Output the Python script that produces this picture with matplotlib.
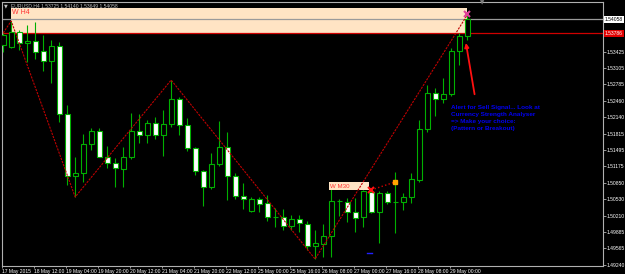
import matplotlib.pyplot as plt
from matplotlib.patches import Rectangle

# EURUSD H4 candles, 17 May 2015 .. 29 May 2015 08:00
opens = [1.53556, 1.53517, 1.53811, 1.53595, 1.53635, 1.53438, 1.53242, 1.53536, 1.52202, 1.50986,
         1.51045, 1.51614, 1.51869, 1.51359, 1.51241, 1.51123, 1.51359, 1.51869, 1.51790, 1.52026,
         1.51790, 1.52006, 1.52497, 1.51986, 1.51535, 1.51084, 1.50770, 1.51221, 1.51555, 1.50986,
         1.50593, 1.50299, 1.50535, 1.50456, 1.50181, 1.50181, 1.50005, 1.50142, 1.50044, 1.49612,
         1.49652, 1.49809, 1.50495, 1.50476, 1.50280, 1.50181, 1.50672, 1.50280, 1.50652, 1.50476,
         1.50476, 1.50574, 1.50907, 1.51908, 1.52614, 1.52497, 1.52595, 1.53438, 1.53725]
highs = [1.53792, 1.54027, 1.53850, 1.53948, 1.54007, 1.53752, 1.53654, 1.53615, 1.52379, 1.51359,
         1.51810, 1.51928, 1.51928, 1.51574, 1.51339, 1.51555, 1.52222, 1.52202, 1.52085, 1.52143,
         1.52281, 1.52869, 1.52536, 1.52124, 1.51555, 1.51104, 1.51437, 1.52065, 1.51849, 1.51045,
         1.50849, 1.50574, 1.50574, 1.50613, 1.50358, 1.50338, 1.50221, 1.50221, 1.50103, 1.49926,
         1.50044, 1.50809, 1.50535, 1.50554, 1.50554, 1.50711, 1.50750, 1.50692, 1.50692, 1.51064,
         1.50652, 1.51045, 1.52085, 1.52771, 1.52712, 1.52909, 1.53497, 1.53792, 1.54140]
lows = [1.53419, 1.53497, 1.53458, 1.53223, 1.53281, 1.53046, 1.52811, 1.52045, 1.50809, 1.50574,
        1.50868, 1.51496, 1.51359, 1.51143, 1.50770, 1.50770, 1.51319, 1.51633, 1.51633, 1.51712,
        1.51378, 1.51947, 1.51790, 1.51476, 1.51005, 1.50397, 1.50731, 1.51182, 1.50515, 1.50535,
        1.50338, 1.50280, 1.50280, 1.50103, 1.49985, 1.49926, 1.49926, 1.49887, 1.49534, 1.49357,
        1.49397, 1.49397, 1.50201, 1.50083, 1.49887, 1.49985, 1.50260, 1.49671, 1.50437, 1.49868,
        1.50319, 1.50456, 1.50868, 1.51849, 1.52163, 1.52418, 1.52555, 1.53164, 1.53649]
closes = [1.53752, 1.53811, 1.53595, 1.53635, 1.53419, 1.53242, 1.53536, 1.52202, 1.50986, 1.51045,
          1.51614, 1.51869, 1.51359, 1.51241, 1.51143, 1.51359, 1.51869, 1.51790, 1.52026, 1.51790,
          1.52006, 1.52497, 1.51986, 1.51535, 1.51084, 1.50770, 1.51221, 1.51555, 1.50986, 1.50593,
          1.50535, 1.50535, 1.50437, 1.50181, 1.50180, 1.50005, 1.50142, 1.50064, 1.49612, 1.49671,
          1.49809, 1.50495, 1.50490, 1.50280, 1.50162, 1.50692, 1.50280, 1.50652, 1.50476, 1.50470,
          1.50574, 1.50927, 1.51908, 1.52614, 1.52497, 1.52595, 1.53438, 1.53733, 1.54058]

zz_idx = [0, 1, 9, 21, 39, 58]
zz_price = [1.53792, 1.54027, 1.50574, 1.52869, 1.49357, 1.54140]

price_ticks = [1.53425, 1.53105, 1.52785, 1.52460, 1.52140, 1.51815, 1.51495,
               1.51175, 1.50850, 1.50530, 1.50210, 1.49885, 1.49565, 1.49240]
date_idx = [0, 4, 8, 12, 16, 20, 24, 28, 32, 36, 40, 44, 48, 52, 56]
date_labels = ['17 May 2015', '18 May 12:00', '19 May 04:00', '19 May 20:00', '20 May 12:00',
               '21 May 04:00', '21 May 20:00', '22 May 12:00', '25 May 00:00', '25 May 16:00',
               '26 May 08:00', '27 May 00:00', '27 May 16:00', '28 May 08:00', '29 May 00:00']

bid = 1.54058
level = 1.53786
zone_top = 1.54282
m30_low, m30_high = 1.50711, 1.50868

plt.rcParams['font.family'] = ['Liberation Sans', 'DejaVu Sans']

fig = plt.figure(figsize=(6.25, 2.74), dpi=100, facecolor='black')
ax = fig.add_axes([2/625, 8/274, 601/625, 264/274], facecolor='black')

green = '#00b000'
x = list(range(len(opens)))
ax.vlines(x, lows, highs, color=green, lw=0.8, zorder=3)
bottoms = [min(o, c) for o, c in zip(opens, closes)]
heights = [abs(c - o) for o, c in zip(opens, closes)]
faces = ['white' if c < o else 'black' for o, c in zip(opens, closes)]
ax.bar(x, heights, bottom=bottoms, width=0.62, color=faces, edgecolor=green, linewidth=0.8, zorder=4)

# supply zone (W H4)
ax.add_patch(Rectangle((1, level), 57, zone_top - level, facecolor='#ffe4c4', edgecolor='none', zorder=1))
ax.text(1.1, zone_top - 0.0001, 'W H4', color='#ff3030', fontsize=5, va='top', ha='left', zorder=6)
ax.axhline(bid, color='#9a9a9a', lw=0.9, zorder=2)
ax.axhline(level, color='#d00000', lw=0.9, zorder=2)

# W M30 box
ax.add_patch(Rectangle((40.75, m30_low), 5, m30_high - m30_low, facecolor='#ffe4c4', edgecolor='none', zorder=5))
ax.text(40.85, (m30_low + m30_high) / 2, 'W M30', color='#ff3030', fontsize=4.4, va='center', ha='left', zorder=6)
ax.plot([46, 49], [m30_low, m30_high], color='#d00000', ls=':', lw=1, zorder=6)
ax.plot([49], [m30_high], marker='s', ms=2.5, color='#ffa500', zorder=7)
ax.plot([46], [m30_low + 0.0001], marker='x', ms=5, mew=1.5, color='#ff1010', zorder=7)
ax.plot([58], [1.54160], marker='x', ms=5, mew=1.5, color='#e0409a', zorder=7)
ax.plot([45.5, 46.1], [1.49475, 1.49475], color='#2020ff', lw=1, zorder=6)

# zigzag
ax.plot(zz_idx, zz_price, color='#c00000', ls=(0, (2, 1)), lw=0.8, zorder=5)

# alert arrow and note
ax.annotate('', xy=(57.8, 1.5365), xytext=(59, 1.52536),
            arrowprops=dict(arrowstyle='-|>', color='#ff1010', lw=1.3, mutation_scale=6), zorder=7)
ax.text(56, 1.52370, 'Alert for Sell Signal... Look at\nCurrency Strength Analyser\n=> Make your choice:\n(Pattern or Breakout)',
        color='#0000ee', fontsize=4.6, fontweight='bold', family='Liberation Sans',
        va='top', ha='left', linespacing=1.45, zorder=7)

ax.set_xlim(-0.125, 75)
ax.set_ylim(1.49220, 1.54400)

ax.yaxis.tick_right()
ax.set_yticks(price_ticks)
ax.set_yticklabels(['%.5f' % p for p in price_ticks])
ax.set_xticks([i - 0.15 for i in date_idx])
ax.set_xticklabels(date_labels)
for lbl in ax.get_xticklabels():
    lbl.set_ha('left')
ax.tick_params(axis='y', colors='#b0b0b0', labelcolor='white', labelsize=3.6, length=2, width=0.6, pad=0.6)
ax.tick_params(axis='x', colors='#b0b0b0', labelcolor='white', labelsize=3.6, length=1.5, width=0.6, pad=0.3)
for s in ax.spines.values():
    s.set_color('#b0b0b0')
    s.set_linewidth(0.8)

# price labels on the right scale
ax.text(1.003, bid, '1.54058', transform=ax.get_yaxis_transform(), fontsize=3.6, color='black',
        va='center', ha='left', bbox=dict(facecolor='white', edgecolor='none', pad=0.7), clip_on=False)
ax.text(1.003, level, '1.53786', transform=ax.get_yaxis_transform(), fontsize=3.6, color='white',
        va='center', ha='left', bbox=dict(facecolor='#e00000', edgecolor='none', pad=0.7), clip_on=False)

# header and chart shift marker
fig.text(4/625, 1 - 6/274, '\u25bc', color='#c0c0c0', fontsize=3.5, va='center', ha='left', family='DejaVu Sans')
fig.text(11/625, 1 - 6/274, 'EURUSD,H4 1.53725 1.54140 1.53649 1.54058', color='#c0c0c0',
         fontsize=3.6, va='center', ha='left')
fig.text(482/625, 1 - 3/274, '\u25bc', color='#808080', fontsize=4, va='center', ha='center', family='DejaVu Sans')

fig.savefig('out.png', dpi=100, facecolor='black')
